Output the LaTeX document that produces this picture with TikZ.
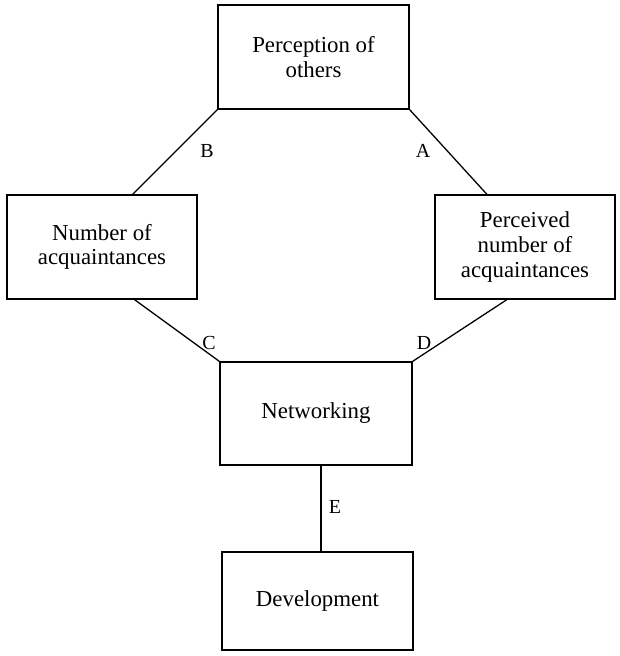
\documentclass[tikz,border=0pt]{standalone}
\usepackage{fontspec}
\setmainfont{Liberation Serif}
\usetikzlibrary{calc}

\begin{document}
\begin{tikzpicture}[x=0.03cm, y=-0.03cm,
  factor/.style={draw, line width=1.1pt, align=center, inner sep=0pt,
    font=\fontsize{19.5}{21}\selectfont},
  tag/.style={font=\fontsize{17}{18}\selectfont, inner sep=0pt},
  link/.style={line width=1.1pt}]
\useasboundingbox (0,0) rectangle (619,656);
%
\node[factor, minimum width=191*0.03cm, minimum height=104*0.03cm] (perc) at (313.5,57) {Perception of\\others};
\node[factor, minimum width=190*0.03cm, minimum height=104*0.03cm] (numacq) at (102,247) {Number of\\acquaintances};
\node[factor, minimum width=180*0.03cm, minimum height=104*0.03cm] (pnumacq) at (525,247) {Perceived\\number of\\acquaintances};
\node[factor, minimum width=192*0.03cm, minimum height=103*0.03cm] (netw) at (316,413.5) {Networking};
\node[factor, minimum width=191*0.03cm, minimum height=98*0.03cm] (devel) at (317.5,601) {Development};
%
\draw[link] (perc.south west) -- ($(numacq.north west)!0.66!(numacq.north east)$);
\draw[link] (perc.south east) -- ($(pnumacq.north west)!0.29!(pnumacq.north east)$);
\draw[link] ($(numacq.south west)!0.67!(numacq.south east)$) -- (netw.north west);
\draw[link] ($(pnumacq.south west)!0.40!(pnumacq.south east)$) -- (netw.north east);
\draw[link] ($(netw.south)+(5,0)$) -- ($(devel.north)+(3.5,0)$);
%
\node[tag] (labB) at (207,151) {B};
\node[tag] (labA) at (423,151) {A};
\node[tag] (labC) at (209,343) {C};
\node[tag] (labD) at (424,343) {D};
\node[tag] (labE) at (335,507) {E};
\end{tikzpicture}
\end{document}
